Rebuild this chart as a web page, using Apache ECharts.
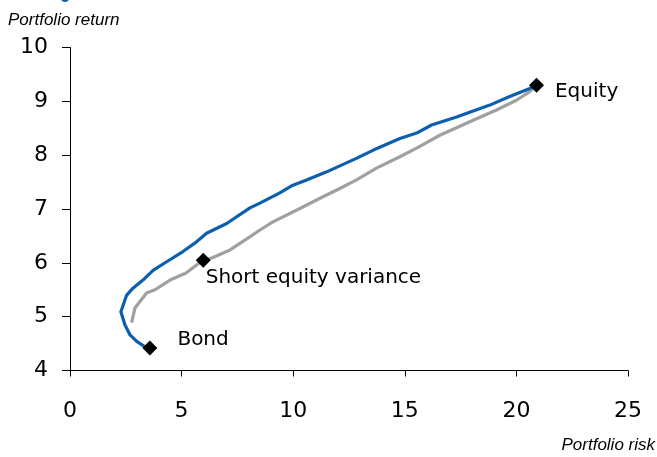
<!DOCTYPE html>
<html>
<head>
<meta charset="utf-8">
<script src="https://cdn.jsdelivr.net/npm/echarts@6/dist/echarts.min.js"></script>
<style>
  html, body { margin: 0; padding: 0; background: #fff; }
  #chart { width: 657px; height: 457px; }
</style>
</head>
<body>
<div id="chart"></div>
<script>
// Efficient frontier: risk (x) vs return (y)
const frontierFull = [
  [3.58, 4.42], [3.36, 4.44], [2.99, 4.54], [2.69, 4.66], [2.46, 4.85],
  [2.28, 5.09], [2.46, 5.31], [2.54, 5.40], [2.82, 5.53], [3.27, 5.68],
  [3.72, 5.86], [4.33, 6.02], [5.06, 6.21], [5.67, 6.39], [6.12, 6.55],
  [7.02, 6.73], [8.06, 7.02], [8.51, 7.11], [9.40, 7.30], [9.93, 7.43],
  [10.60, 7.54], [11.50, 7.69], [12.83, 7.94], [13.57, 8.09], [14.78, 8.31],
  [15.53, 8.41], [16.20, 8.56], [17.32, 8.71], [18.81, 8.93], [19.70, 9.09],
  [20.60, 9.24], [20.90, 9.30]
];
const frontierShort = [
  [2.76, 4.89], [2.91, 5.16], [3.43, 5.44], [3.81, 5.50], [4.48, 5.68],
  [5.20, 5.81], [5.67, 5.96], [5.97, 6.05], [6.35, 6.09], [7.17, 6.24],
  [7.97, 6.46], [8.51, 6.61], [9.09, 6.76], [10.30, 7.01], [11.20, 7.20],
  [12.09, 7.38], [12.84, 7.54], [13.73, 7.76], [14.78, 7.97], [15.53, 8.13],
  [16.57, 8.37], [18.06, 8.65], [19.11, 8.84], [20.00, 9.02], [20.60, 9.18],
  [20.90, 9.30]
];
const pointNames = ['Equity', 'Short equity variance', 'Bond'];
const pointValues = [[20.90, 9.30], [5.97, 6.05], [3.58, 4.42]];
const xTicks = [0, 5, 10, 15, 20, 25];
const yTicks = [4, 5, 6, 7, 8, 9, 10];

const labelPlacement = {
  'Equity': { offset: [6, 7] },
  'Short equity variance': { offset: [-10, 18] },
  'Bond': { offset: [15, -8] }
};

const chart = echarts.init(document.getElementById('chart'), null, { renderer: 'canvas' });
const tickFont = { fontFamily: 'DejaVu Sans', fontSize: 22, color: '#000' };

chart.setOption({
  animation: false,
  grid: { left: 70, right: 29, top: 47.5, bottom: 86.5 },
  xAxis: {
    type: 'value',
    min: xTicks[0], max: xTicks[xTicks.length - 1], interval: 5,
    axisLine: { lineStyle: { color: '#000', width: 1 } },
    axisTick: { show: true, length: 6, lineStyle: { color: '#000' } },
    axisLabel: Object.assign({ margin: 30 }, tickFont),
    splitLine: { show: false }
  },
  yAxis: {
    type: 'value',
    min: yTicks[0], max: yTicks[yTicks.length - 1], interval: 1,
    axisLine: { show: true, lineStyle: { color: '#000', width: 1 } },
    axisTick: { show: true, length: 8, lineStyle: { color: '#000' } },
    axisLabel: Object.assign({ margin: 22 }, tickFont),
    splitLine: { show: false }
  },
  graphic: [
    { type: 'circle', shape: { cx: 65, cy: -2, r: 4 }, style: { fill: '#0a5fb0' } },
    { type: 'text', left: 8, top: 12,
      style: { text: 'Portfolio return', font: 'italic 17px "Liberation Sans"', fill: '#000' } },
    { type: 'text', right: 2, top: 437,
      style: { text: 'Portfolio risk', font: 'italic 17px "Liberation Sans"', fill: '#000' } }
  ],
  series: [
    {
      type: 'line', data: frontierShort, showSymbol: false, smooth: false,
      lineStyle: { color: '#a0a0a0', width: 3.2 }, z: 2
    },
    {
      type: 'line', data: frontierFull, showSymbol: false, smooth: false,
      lineStyle: { color: '#0c5fae', width: 3.2 }, z: 3
    },
    {
      type: 'scatter', symbol: 'diamond', symbolSize: [15, 15],
      itemStyle: { color: '#000', opacity: 1 }, z: 5,
      data: pointValues.map((v, i) => ({
        name: pointNames[i], value: v,
        label: {
          show: true, position: 'right', formatter: '{b}',
          fontFamily: 'DejaVu Sans', fontSize: 20, color: '#000',
          offset: labelPlacement[pointNames[i]].offset
        }
      }))
    }
  ]
});
</script>
</body>
</html>
